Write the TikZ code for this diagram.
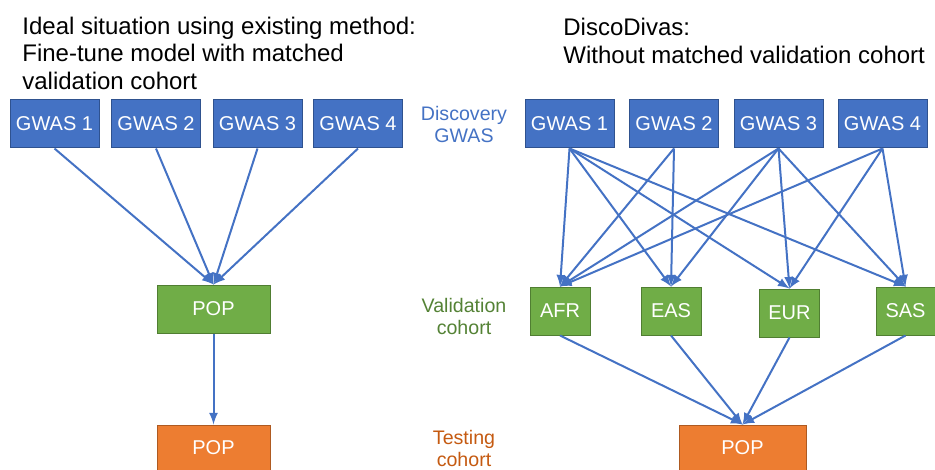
\documentclass[tikz,border=0pt]{standalone}
\usepackage{fontspec}
\setmainfont{Liberation Sans}
\usepackage{tikz}
\usetikzlibrary{shapes,arrows,positioning}

\definecolor{gwasblue}{HTML}{4472C4}
\definecolor{gwasedge}{HTML}{2F528F}
\definecolor{valgreen}{HTML}{70AD47}
\definecolor{valedge}{HTML}{507E32}
\definecolor{valtext}{HTML}{548235}
\definecolor{testorange}{HTML}{ED7D31}
\definecolor{testedge}{HTML}{AE5A21}
\definecolor{testtext}{HTML}{C55A11}

\begin{document}
\begin{tikzpicture}[x=0.5pt, y=-0.5pt]
		\tikzstyle{Box}		= [draw, line width=0.5pt, inner sep=0pt, minimum height=24pt, text=white, font=\fontsize{10}{12}\selectfont]
		\tikzstyle{Gwas}	= [Box, fill=gwasblue, draw=gwasedge, minimum width=44.5pt]
		\tikzstyle{Val}		= [Box, fill=valgreen, draw=valedge]
		\tikzstyle{Test}	= [Box, fill=testorange, draw=testedge, minimum height=22.5pt]
		\tikzstyle{Title}	= [anchor=west, align=left, inner sep=0pt, font=\fontsize{12}{13.75}\selectfont]
		\tikzstyle{Side}	= [align=center, inner sep=0pt, font=\fontsize{9.8}{11}\selectfont]
		\tikzstyle{Link}	= [gwasblue, line width=1pt]

		\useasboundingbox (0,0) rectangle (935,470);

		% titles
		\node (ideal) at (22, 53) [Title] {Ideal situation using existing method:\\Fine-tune model with matched\\validation cohort};
		\node (disco) at (563, 41) [Title] {DiscoDivas:\\Without matched validation cohort};

		% row labels
		\node (lgwas) at (464, 124) [Side][text=gwasblue] {Discovery\\GWAS};
		\node (lval)  at (464, 316) [Side][text=valtext] {Validation\\cohort};
		\node (ltest) at (464, 448) [Side][text=testtext] {Testing\\cohort};

		% existing method
		\node (g1) at (54.5, 124) [Gwas] {GWAS 1};
		\node (g2) at (156, 124) [Gwas] {GWAS 2};
		\node (g3) at (257.5, 124) [Gwas] {GWAS 3};
		\node (g4) at (358, 124) [Gwas] {GWAS 4};
		\node (vpop) at (213.5, 309) [Val][minimum width=56.5pt] {POP};
		\node (tpop) at (213.5, 447.5) [Test][minimum width=56.5pt] {POP};

		\foreach \g in {g1,g2,g3,g4}
			\draw [-latex] (\g.south) to (vpop.north) [Link];
		\draw [-latex] (vpop) to (tpop) [Link];

		% DiscoDivas
		\node (d1) at (569.5, 124) [Gwas] {GWAS 1};
		\node (d2) at (674, 124) [Gwas] {GWAS 2};
		\node (d3) at (778.5, 124) [Gwas] {GWAS 3};
		\node (d4) at (882.5, 124) [Gwas] {GWAS 4};
		\node (afr) at (560, 311) [Val][minimum width=30pt] {AFR};
		\node (eas) at (671, 311) [Val][minimum width=30pt] {EAS};
		\node (eur) at (789.5, 313) [Val][minimum width=30pt] {EUR};
		\node (sas) at (905.5, 311) [Val][minimum width=29.5pt] {SAS};
		\node (dpop) at (742.5, 447.5) [Test][minimum width=63.5pt] {POP};

		\foreach \c in {afr,eas,eur,sas}
			\draw [-latex] (d1.south) to (\c.north) [Link];
		\foreach \c in {afr,eas}
			\draw [-latex] (d2.south) to (\c.north) [Link];
		\foreach \c in {afr,eas,eur,sas}
			\draw [-latex] (d3.south) to (\c.north) [Link];
		\foreach \c in {afr,eur,sas}
			\draw [-latex] (d4.south) to (\c.north) [Link];
		\foreach \c in {afr,eas,eur,sas}
			\draw [-latex] (\c.south) to (dpop.north) [Link];
	\end{tikzpicture}
\end{document}
